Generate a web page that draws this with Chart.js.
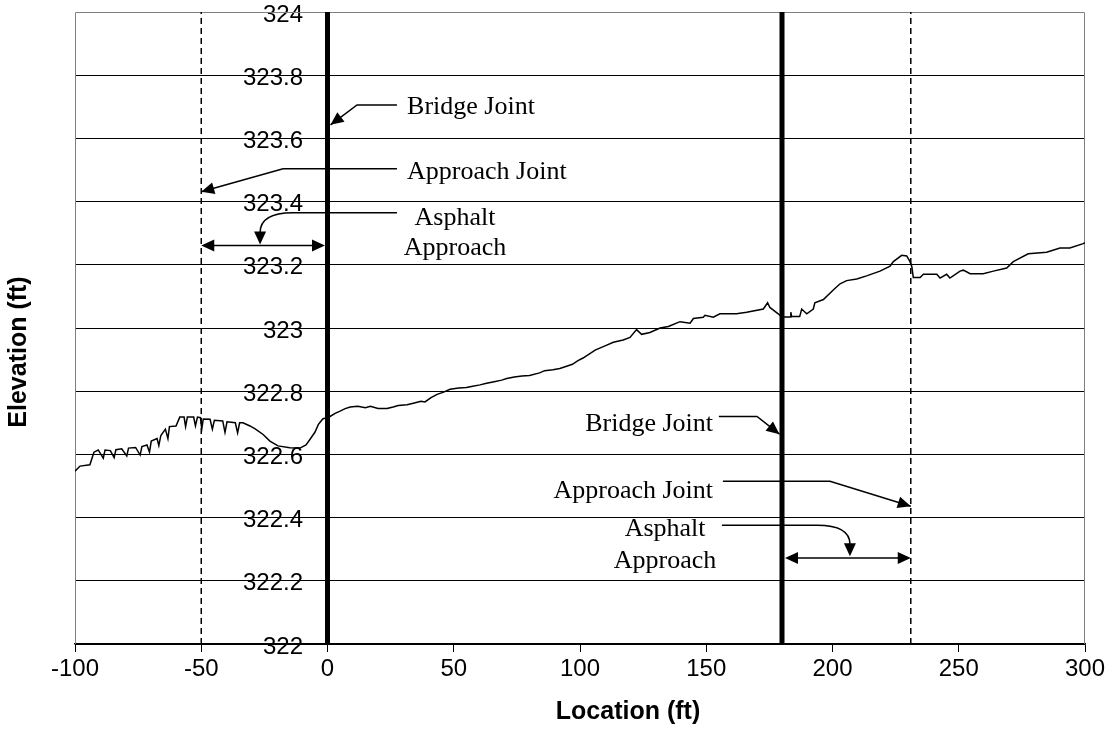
<!DOCTYPE html>
<html>
<head>
<meta charset="utf-8">
<script src="https://cdn.jsdelivr.net/npm/chart.js@4.4.1/dist/chart.umd.min.js"></script>
<style>
html, body { margin: 0; padding: 0; background: #fff; }
</style>
</head>
<body>
<canvas id="chart" width="1109" height="740"></canvas>
<script>
// surveyed profile (location ft, elevation ft)
var profileX = [-100, -98, -94.1, -92.5, -90.8, -88.8, -88.1, -86, -84.5, -83.8, -81.5, -79.5, -78.8, -76, -74.2, -73.5,
  -71.5, -70.5, -69.8, -67.5, -66.8, -66, -64.2, -63.2, -62.6, -60, -58.5, -56.8, -56.2, -55.5, -53, -52.3, -51.5,
  -50.3, -49.8, -49.2, -46.5, -45.6, -44.8, -41.5, -40.6, -39.8, -36.5, -35.6, -34.8, -33.5, -30.7, -28.5, -25.5,
  -22.8, -19.6, -14.9, -10.9, -8.5, -6.9, -5, -3.6, -1.8, 0,
  1, 3, 5, 7, 9, 12, 15, 17, 20, 23.6, 26, 28, 31.5, 34, 37, 38.6, 41, 43.4, 46, 48.5, 52, 55, 57, 60.4, 63, 66,
  69, 71, 74, 77, 80, 84, 86, 89.3, 92, 95, 97, 99.2,
  101.2, 106, 110.6, 113.2, 117.1, 119.8, 122.4, 124.4, 127.7, 131.7, 135, 139.6, 143.6, 144.9, 148.8, 149.5,
  152.8, 155.4, 162, 166, 172.6, 174.3, 175.2, 178.5, 179.9, 183.2, 183.5, 183.8, 187, 187.8, 189.8, 192.4, 193,
  196.4, 200.3, 203, 205.6, 209.6, 213.5, 218.8, 222.8, 224.1, 227.4, 229.4, 230.7, 231.4, 232, 234.7, 236,
  241.3, 242.6, 245.2, 246.5, 250.5, 251.8, 254.5, 259.7, 263.7, 269, 271.6, 277.5, 284.8, 290.1, 294, 299.3, 300];
var profileY = [322.547, 322.563, 322.567, 322.607, 322.614, 322.588, 322.614, 322.612, 322.59, 322.615, 322.618, 322.595, 322.62, 322.622, 322.598, 322.625,
  322.63, 322.607, 322.642, 322.65, 322.628, 322.66, 322.68, 322.65, 322.688, 322.69, 322.718, 322.718, 322.688, 322.718, 322.718, 322.69, 322.718,
  322.716, 322.68, 322.712, 322.711, 322.68, 322.708, 322.706, 322.67, 322.703, 322.7, 322.668, 322.7, 322.7, 322.69, 322.68, 322.663,
  322.642, 322.627, 322.621, 322.62, 322.63, 322.648, 322.67, 322.695, 322.713, 322.716,
  322.72, 322.73, 322.737, 322.745, 322.75, 322.752, 322.748, 322.752, 322.745, 322.745, 322.75, 322.755, 322.757, 322.762, 322.768, 322.766, 322.78, 322.79, 322.797, 322.806, 322.81, 322.812, 322.815, 322.82, 322.825, 322.83,
  322.835, 322.84, 322.845, 322.848, 322.85, 322.858, 322.865, 322.868, 322.872, 322.88, 322.885, 322.897,
  322.905, 322.93, 322.946, 322.955, 322.962, 322.97, 322.995, 322.98, 322.986, 323.0, 323.005, 323.02, 323.015, 323.03, 323.034, 323.04,
  323.034, 323.045, 323.045, 323.05, 323.06, 323.08, 323.065, 323.045, 323.035, 323.035, 323.05, 323.036, 323.036, 323.06, 323.045, 323.06, 323.08,
  323.09, 323.12, 323.14, 323.15, 323.155, 323.165, 323.18, 323.196, 323.21, 323.23, 323.228, 323.21, 323.195, 323.16, 323.16, 323.17,
  323.17, 323.158, 323.17, 323.158, 323.18, 323.183, 323.172, 323.172, 323.18, 323.19, 323.21, 323.235, 323.24, 323.253, 323.253, 323.267, 323.27];

var bridgeJoints = [0, 180];
var approachJoints = [-50, 231];
var yMin = 322, yMax = 324, yStep = 0.2;
var xMin = -100, xMax = 300, xStep = 50;

var sans = '"Liberation Sans", Arial, sans-serif';
var serif = '"Liberation Serif", "Times New Roman", serif';

var profile = profileX.map(function (x, i) { return { x: x, y: profileY[i] }; });

var datasets = [{
  data: profile,
  borderColor: '#000',
  borderWidth: 1.5,
  pointRadius: 0,
  showLine: true,
  tension: 0
}];
bridgeJoints.forEach(function (j) {
  datasets.push({
    data: [{ x: j, y: yMin }, { x: j, y: yMax }],
    borderColor: '#000', borderWidth: 5, pointRadius: 0, showLine: true
  });
});
approachJoints.forEach(function (j) {
  datasets.push({
    data: [{ x: j, y: yMin }, { x: j, y: yMax }],
    borderColor: '#000', borderWidth: 1.5, borderDash: [6, 4], pointRadius: 0, showLine: true
  });
});

// callouts, in data units
var notes = [
  { text: ['Bridge Joint'], tx: 31.5, ty: [323.70], align: 'left', kind: 'line',
    path: [[27.5, 323.706], [11.7, 323.706], [1.2, 323.643]] },
  { text: ['Approach Joint'], tx: 31.5, ty: [323.494], align: 'left', kind: 'line',
    path: [[27.5, 323.504], [-17.6, 323.504], [-50, 323.431]] },
  { text: ['Asphalt', 'Approach'], tx: 50.5, ty: [323.349, 323.254], align: 'center', kind: 'curve',
    path: [[27.5, 323.365], [-13.7, 323.365], [-26.7, 323.264]] },
  { text: ['Bridge Joint'], tx: 152.7, ty: [322.695], align: 'right', kind: 'line',
    path: [[155, 322.72], [170.1, 322.72], [179, 322.664]] },
  { text: ['Approach Joint'], tx: 152.7, ty: [322.483], align: 'right', kind: 'line',
    path: [[156.6, 322.515], [199, 322.515], [231, 322.436]] },
  { text: ['Asphalt', 'Approach'], tx: 133.7, ty: [322.363, 322.262], align: 'center', kind: 'curve',
    path: [[156.2, 322.376], [193.9, 322.376], [206.9, 322.278]] }
];
var spans = [
  { x1: -50, x2: -1, y: 323.261 },
  { x1: 181.2, x2: 231, y: 322.272 }
];

function head(ctx, fx, fy, tx, ty) {
  var a = Math.atan2(ty - fy, tx - fx), L = 13, W = 6;
  ctx.beginPath();
  ctx.moveTo(tx, ty);
  ctx.lineTo(tx - L * Math.cos(a) + W * Math.sin(a), ty - L * Math.sin(a) - W * Math.cos(a));
  ctx.lineTo(tx - L * Math.cos(a) - W * Math.sin(a), ty - L * Math.sin(a) + W * Math.cos(a));
  ctx.closePath();
  ctx.fill();
}

var extras = {
  id: 'extras',
  beforeDatasetsDraw: function (chart) {
    var ctx = chart.ctx, a = chart.chartArea;
    ctx.save();
    ctx.strokeStyle = '#808080';
    ctx.lineWidth = 1;
    ctx.beginPath();
    ctx.moveTo(a.left + 0.5, a.bottom);
    ctx.lineTo(a.left + 0.5, a.top + 0.5);
    ctx.lineTo(a.right - 0.5, a.top + 0.5);
    ctx.lineTo(a.right - 0.5, a.bottom);
    ctx.stroke();
    ctx.restore();
  },
  afterDraw: function (chart) {
    var ctx = chart.ctx, sx = chart.scales.x, sy = chart.scales.y;
    var X = function (v) { return sx.getPixelForValue(v); };
    var Y = function (v) { return sy.getPixelForValue(v); };
    ctx.save();
    ctx.strokeStyle = '#000';
    ctx.fillStyle = '#000';
    ctx.lineWidth = 1.5;

    notes.forEach(function (n) {
      var p = n.path.map(function (q) { return [X(q[0]), Y(q[1])]; });
      ctx.beginPath();
      ctx.moveTo(p[0][0], p[0][1]);
      ctx.lineTo(p[1][0], p[1][1]);
      if (n.kind === 'curve') {
        var endY = p[2][1] - 12;
        ctx.quadraticCurveTo(p[2][0], p[1][1], p[2][0], endY);
        ctx.stroke();
        head(ctx, p[2][0], endY, p[2][0], p[2][1]);
      } else {
        ctx.lineTo(p[2][0], p[2][1]);
        ctx.stroke();
        head(ctx, p[1][0], p[1][1], p[2][0], p[2][1]);
      }
      ctx.font = '26px ' + serif;
      ctx.textAlign = n.align;
      ctx.textBaseline = 'middle';
      n.text.forEach(function (t, i) { ctx.fillText(t, X(n.tx), Y(n.ty[i])); });
    });

    spans.forEach(function (s) {
      var x1 = X(s.x1), x2 = X(s.x2), y = Y(s.y);
      ctx.beginPath();
      ctx.moveTo(x1 + 8, y);
      ctx.lineTo(x2 - 8, y);
      ctx.stroke();
      head(ctx, x2, y, x1, y);
      head(ctx, x1, y, x2, y);
    });

    // axis titles
    ctx.font = 'bold 25px ' + sans;
    ctx.textAlign = 'center';
    ctx.textBaseline = 'middle';
    ctx.fillText('Location (ft)', 628, 712);
    ctx.translate(19, 352);
    ctx.rotate(-Math.PI / 2);
    ctx.fillText('Elevation (ft)', 0, 0);
    ctx.restore();
  }
};

var chart = new Chart(document.getElementById('chart').getContext('2d'), {
  type: 'scatter',
  data: { datasets: datasets },
  options: {
    responsive: false,
    animation: false,
    layout: { padding: { left: 75, top: 12, right: 24, bottom: 0 } },
    plugins: { legend: { display: false }, tooltip: { enabled: false } },
    scales: {
      x: {
        type: 'linear', min: xMin, max: xMax,
        ticks: { stepSize: xStep, color: '#000', padding: 3, font: { family: sans, size: 24 } },
        grid: { drawOnChartArea: false, drawTicks: true, tickLength: 8, color: '#000' },
        border: { color: '#000', width: 1.5 },
        afterFit: function (s) { s.height = 96; s.paddingLeft = 0; s.paddingRight = 0; }
      },
      y: {
        type: 'linear', min: yMin, max: yMax,
        // labels sit left of the x = 0 axis, as in the original
        position: { x: -9.7 },
        ticks: {
          stepSize: yStep, color: '#000', labelOffset: 3, font: { family: sans, size: 24 },
          callback: function (v) { return String(Math.round(v * 10) / 10); }
        },
        grid: {
          drawTicks: false,
          color: function (c) { return c.tick && Math.abs(c.tick.value - yMax) < 1e-6 ? 'rgba(0,0,0,0)' : '#000'; }
        },
        border: { display: false },
        afterFit: function (s) { s.width = 0; s.paddingTop = 0; s.paddingBottom = 0; s.paddingLeft = 0; s.paddingRight = 0; }
      }
    }
  },
  plugins: [extras]
});
</script>
</body>
</html>
